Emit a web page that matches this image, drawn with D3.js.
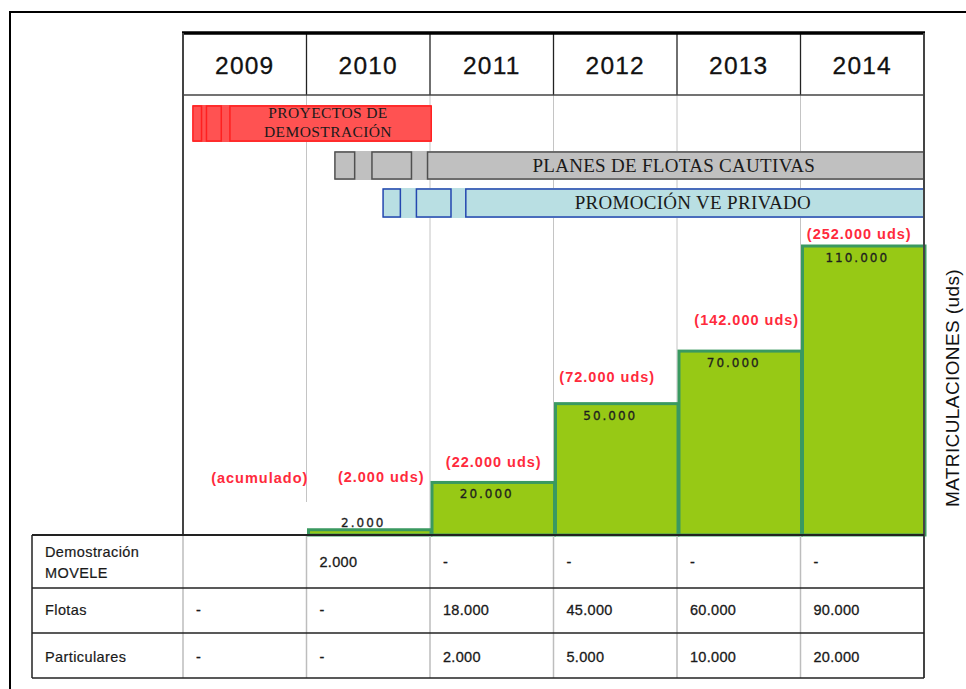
<!DOCTYPE html>
<html>
<head>
<meta charset="utf-8">
<script src="https://cdnjs.cloudflare.com/ajax/libs/d3/7.8.5/d3.min.js"></script>
<style>
  body { margin: 0; background: #fff; }
  svg { display: block; font-family: "Liberation Sans", Arial, sans-serif; }
</style>
</head>
<body>
<svg id="chart" width="966" height="689"></svg>
<script>

// Data
var years = ["2009", "2010", "2011", "2012", "2013", "2014"];
var annual = [0, 2000, 20000, 50000, 70000, 110000];
var cumulative = [null, 2000, 22000, 72000, 142000, 252000];

var rowLabels = [["Demostración", "MOVELE"], ["Flotas"], ["Particulares"]];
var demoMovele = [null, 2000, 0, 0, 0, 0];
var flotas = [0, 0, 18000, 45000, 60000, 90000];
var particulares = [0, 0, 2000, 5000, 10000, 20000];

var programs = [["PROYECTOS DE", "DEMOSTRACIÓN"], ["PLANES DE FLOTAS CAUTIVAS"], ["PROMOCIÓN VE PRIVADO"]];
var programStart = [2009.08, 2010.23, 2010.62];
var programEnd = [2011.01, 2015, 2015];
var programPhases = [
    [[2009.08, 2009.15], [2009.19, 2009.31], [2009.38, 2011.01]],
    [[2010.23, 2010.39], [2010.53, 2010.85], [2010.98, 2015]],
    [[2010.62, 2010.76], [2010.89, 2011.17], [2011.29, 2015]]
];

// Spanish number format: 2.000
var es = d3.formatLocale({ decimal: ",", thousands: ".", grouping: [3], currency: ["", " €"] });
var fmt = es.format(",d");

// Layout
var left = 183, right = 924;
var headTop = 33, headBottom = 95, base = 535;
var tableLeft = 32;
var rowEdges = [535, 588, 633, 678];

var svg = d3.select("#chart");

// Outer frame
svg.append("rect")
    .attr("x", 10).attr("y", 12)
    .attr("width", 1000).attr("height", 1000)
    .attr("fill", "none").attr("stroke", "#000").attr("stroke-width", 2);

// Scales
var x = d3.scaleBand().domain(years).range([left, right]);
var t = d3.scaleLinear().domain([2009, 2015]).range([left, right]);
var y = d3.scaleLinear().domain([0, 110000]).range([base, 246]);

// Grid lines between years
svg.selectAll(".grid")
    .data(years.slice(1))
    .enter().append("line")
    .attr("class", "grid")
    .attr("x1", function (d) { return x(d); })
    .attr("x2", function (d) { return x(d); })
    .attr("y1", headBottom)
    .attr("y2", function (d, i) { return i === 0 ? 502 : base; })
    .attr("stroke", "#c4c4c4").attr("stroke-width", 1);

// Programme bars (gantt)
var laneTop = [105, 151, 188];
var laneHeight = [37, 29, 30];
var laneFill = ["#ff5252", "#c0c0c0", "#b9dfe3"];
var laneStroke = ["#ff2020", "#505050", "#2447b0"];
var laneFont = [15.5, 19, 19];
var laneSpacing = [0.4, 0.3, 0.3];

programs.forEach(function (p, i) {
    var g = svg.append("g");
    g.append("rect")
        .attr("x", t(programStart[i]))
        .attr("y", laneTop[i])
        .attr("width", t(programEnd[i]) - t(programStart[i]))
        .attr("height", laneHeight[i])
        .attr("fill", laneFill[i]);
    g.selectAll("rect.phase")
        .data(programPhases[i])
        .enter().append("rect")
        .attr("class", "phase")
        .attr("x", function (d) { return t(d[0]); })
        .attr("y", laneTop[i] + 1)
        .attr("width", function (d) { return t(d[1]) - t(d[0]); })
        .attr("height", laneHeight[i] - 2)
        .attr("fill", "none")
        .attr("stroke", laneStroke[i])
        .attr("stroke-width", 1.5);
    var last = programPhases[i][programPhases[i].length - 1];
    var cx = i === 0 ? 328 : (t(last[0]) + t(last[1])) / 2 + (i === 1 ? -2 : -2);
    var lineH = 19;
    var y0 = laneTop[i] + laneHeight[i] / 2 - (p.length - 1) * lineH / 2 + laneFont[i] * 0.34;
    g.selectAll("text")
        .data(p)
        .enter().append("text")
        .attr("x", cx)
        .attr("y", function (d, j) { return y0 + j * lineH - (i === 0 ? 1 : 0); })
        .attr("text-anchor", "middle")
        .attr("font-family", "'Liberation Serif', 'Times New Roman', serif")
        .attr("font-size", laneFont[i])
        .attr("letter-spacing", laneSpacing[i])
        .attr("fill", "#1a1a1a")
        .text(function (d) { return d; });
});

// Bars
svg.selectAll(".bar")
    .data(annual)
    .enter().append("rect")
    .attr("class", "bar")
    .attr("x", function (d, i) { return x(years[i]) + 2; })
    .attr("y", function (d) { return y(d); })
    .attr("width", x.bandwidth() - 1)
    .attr("height", function (d) { return base - y(d); })
    .attr("fill", "#97c915")
    .attr("stroke", "#3a9960")
    .attr("stroke-width", 3);

// Values inside bars
svg.selectAll(".val")
    .data(annual)
    .enter().append("text")
    .filter(function (d) { return d > 0; })
    .attr("class", "val")
    .attr("x", function (d) { return x(years[annual.indexOf(d)]) + x.bandwidth() / 2 - 5; })
    .attr("y", function (d) { return base - y(d) < 20 ? y(d) - 3 : y(d) + 16; })
    .attr("text-anchor", "middle")
    .attr("font-family", "'DejaVu Sans', Verdana, sans-serif")
    .attr("font-size", 12)
    .attr("letter-spacing", 2)
    .attr("stroke", "#1e1e1e").attr("stroke-width", 0.3)
    .attr("fill", "#1e1e1e")
    .text(function (d) { return fmt(d); });

// Cumulative labels in red
var lift = [52, 48, 15, 22, 26, 7];
var shiftX = [15, 13, 2, -8, 8, -3];
svg.selectAll(".cum")
    .data(cumulative)
    .enter().append("text")
    .attr("class", "cum")
    .attr("x", function (d, i) { return x(years[i]) + x.bandwidth() / 2 + shiftX[i]; })
    .attr("y", function (d, i) { return y(annual[i]) - lift[i]; })
    .attr("text-anchor", "middle")
    .attr("font-size", 14.5)
    .attr("font-weight", "bold")
    .attr("letter-spacing", 1)
    .attr("fill", "#ff2a3c")
    .text(function (d) { return d === null ? "(acumulado)" : "(" + fmt(d) + " uds)"; });

// Header row with years
svg.selectAll(".year")
    .data(years)
    .enter().append("text")
    .attr("class", "year")
    .attr("x", function (d) { return x(d) + x.bandwidth() / 2; })
    .attr("y", 74)
    .attr("text-anchor", "middle")
    .attr("font-size", 24.5)
    .attr("letter-spacing", 1.2)
    .attr("stroke", "#111").attr("stroke-width", 0.3)
    .attr("fill", "#111")
    .text(function (d) { return d; });

svg.selectAll(".ysep")
    .data(years.slice(1))
    .enter().append("line")
    .attr("class", "ysep")
    .attr("x1", function (d) { return x(d); })
    .attr("x2", function (d) { return x(d); })
    .attr("y1", headTop).attr("y2", headBottom)
    .attr("stroke", "#222").attr("stroke-width", 1.3);

svg.append("line")
    .attr("x1", left).attr("x2", right).attr("y1", headBottom).attr("y2", headBottom)
    .attr("stroke", "#444").attr("stroke-width", 1.5);
svg.append("line")
    .attr("x1", left - 1).attr("x2", right + 1).attr("y1", headTop).attr("y2", headTop)
    .attr("stroke", "#000").attr("stroke-width", 3.5);
svg.append("line")
    .attr("x1", left).attr("x2", left).attr("y1", headTop).attr("y2", base)
    .attr("stroke", "#444").attr("stroke-width", 2);
svg.append("line")
    .attr("x1", right).attr("x2", right).attr("y1", headTop).attr("y2", rowEdges[3])
    .attr("stroke", "#444").attr("stroke-width", 2);

// Axis label on the right
svg.append("text")
    .attr("transform", "translate(959,388) rotate(-90)")
    .attr("text-anchor", "middle")
    .attr("font-size", 19)
    .attr("letter-spacing", 0.4)
    .attr("fill", "#111")
    .text("MATRICULACIONES (uds)");

// Table below
var tableRows = [demoMovele, flotas, particulares];

svg.selectAll(".tvline")
    .data(years)
    .enter().append("line")
    .attr("class", "tvline")
    .attr("x1", function (d) { return x(d); })
    .attr("x2", function (d) { return x(d); })
    .attr("y1", rowEdges[0]).attr("y2", rowEdges[3])
    .attr("stroke", "#bdbdbd").attr("stroke-width", 1.5);

svg.selectAll(".thline")
    .data(rowEdges)
    .enter().append("line")
    .attr("class", "thline")
    .attr("x1", tableLeft).attr("x2", right)
    .attr("y1", function (d) { return d; }).attr("y2", function (d) { return d; })
    .attr("stroke", "#222")
    .attr("stroke-width", function (d, i) { return i === 0 ? 2 : 1.5; });

svg.append("line")
    .attr("x1", tableLeft).attr("x2", tableLeft).attr("y1", rowEdges[0]).attr("y2", rowEdges[3])
    .attr("stroke", "#222").attr("stroke-width", 1.5);

var rowTextY = [567, 615, 662];

rowLabels.forEach(function (lines, r) {
    svg.selectAll(".rl" + r)
        .data(lines)
        .enter().append("text")
        .attr("x", 45)
        .attr("y", function (d, j) { return lines.length > 1 ? 557 + j * 21 : rowTextY[r]; })
        .attr("font-size", 14.5)
        .attr("letter-spacing", 0.4)
        .attr("stroke", "#1a1a1a").attr("stroke-width", 0.2)
        .attr("fill", "#1a1a1a")
        .text(function (d) { return d; });

    svg.selectAll(".rv" + r)
        .data(tableRows[r])
        .enter().append("text")
        .attr("x", function (d, i) { return x(years[i]) + 13; })
        .attr("y", rowTextY[r])
        .attr("font-size", 14.5)
        .attr("letter-spacing", 0.3)
        .attr("stroke", "#1a1a1a").attr("stroke-width", 0.3)
        .attr("fill", "#1a1a1a")
        .text(function (d) { return d === null ? "" : (d === 0 ? "-" : fmt(d)); });
});

</script>
</body>
</html>
